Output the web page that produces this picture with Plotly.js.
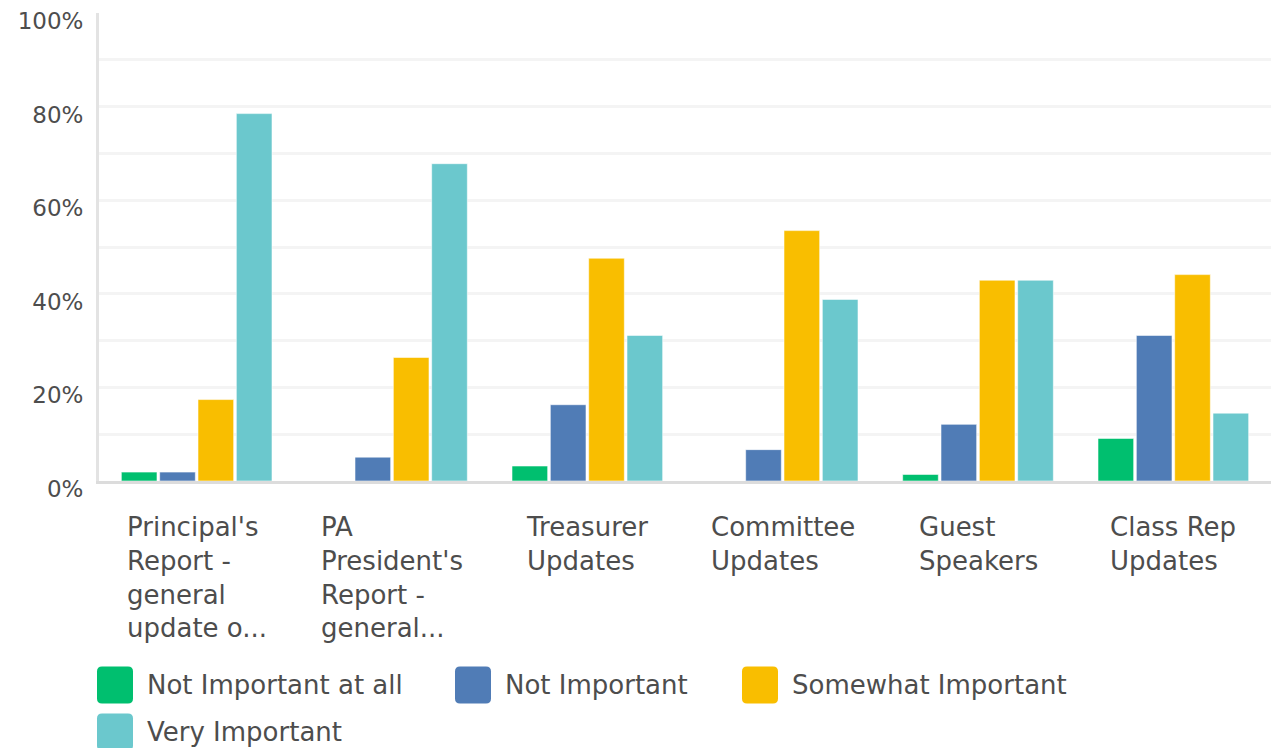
<!DOCTYPE html>
<html>
<head>
<meta charset="utf-8">
<script src="https://cdn.plot.ly/plotly-3.0.1.min.js"></script>
<style>html,body{margin:0;padding:0;background:#fff;}#chart{width:1271px;height:748px;}</style>
</head>
<body>
<div id="chart"></div>
<script>
// ---- data ----
const categories = [
  "Principal's Report - general update o...",
  "PA President's Report - general...",
  "Treasurer Updates",
  "Committee Updates",
  "Guest Speakers",
  "Class Rep Updates"
];
const tickLabels = [
  "Principal's<br>Report -<br>general<br>update o...",
  "PA<br>President's<br>Report -<br>general...",
  "Treasurer<br>Updates",
  "Committee<br>Updates",
  "Guest<br>Speakers",
  "Class Rep<br>Updates"
];
const seriesNames = ["Not Important at all", "Not Important", "Somewhat Important", "Very Important"];
const notImportantAtAll = [1.9, 0, 3.2, 0, 1.4, 9.1];
const notImportant      = [1.9, 5.1, 16.3, 6.7, 12.1, 31.1];
const somewhatImportant = [17.4, 26.4, 47.6, 53.5, 42.9, 44.1];
const veryImportant     = [78.5, 67.8, 31.1, 38.8, 42.9, 14.5];
const yTickValues = [0, 20, 40, 60, 80, 100];
const yTickText = ["0%", "20%", "40%", "60%", "80%", "100%"];

// ---- styles ----
const colors = ["#00bf6f", "#507cb6", "#f9be00", "#6bc8cd"];
const seriesValues = [notImportantAtAll, notImportant, somewhatImportant, veryImportant];
const FONT = "DejaVu Sans, sans-serif";
const TXT = "#4d4d4d";

const traces = seriesValues.map((vals, i) => ({
  type: "bar",
  name: seriesNames[i],
  x: categories,
  y: vals,
  marker: { color: colors[i], line: { color: "rgba(255,255,255,0.55)", width: 1 } },
  hoverinfo: "skip"
}));

const W = 1271, H = 748;
const margin = { l: 99, r: 0, t: 13, b: 267 };
const pw = W - margin.l - margin.r, ph = H - margin.t - margin.b;
const px2x = p => (p - margin.l) / pw;
const py2y = p => (H - margin.b - p) / ph;

// category labels (block centred, lines left aligned)
const annotations = categories.map((c, i) => ({
  xref: "x", yref: "paper", x: c, y: 0,
  xanchor: "center", yanchor: "top", align: "left",
  yshift: -29,
  text: tickLabels[i], showarrow: false,
  font: { family: FONT, size: 26, color: TXT }
}));

// legend built from series names/colours
const legendPos = [[97, 685], [455, 685], [742, 685], [97, 732]];
const shapes = [];
const sw = 36, sh = 37, r = 5;
seriesNames.forEach((n, i) => {
  const [lx, cy] = legendPos[i];
  const x0 = lx, x1 = lx + sw, y0 = cy - sh / 2, y1 = cy + sh / 2;
  const X = p => px2x(p), Y = p => py2y(p);
  const path = `M ${X(x0 + r)} ${Y(y0)} L ${X(x1 - r)} ${Y(y0)} Q ${X(x1)} ${Y(y0)} ${X(x1)} ${Y(y0 + r)} ` +
    `L ${X(x1)} ${Y(y1 - r)} Q ${X(x1)} ${Y(y1)} ${X(x1 - r)} ${Y(y1)} L ${X(x0 + r)} ${Y(y1)} ` +
    `Q ${X(x0)} ${Y(y1)} ${X(x0)} ${Y(y1 - r)} L ${X(x0)} ${Y(y0 + r)} Q ${X(x0)} ${Y(y0)} ${X(x0 + r)} ${Y(y0)} Z`;
  shapes.push({ type: "path", xref: "paper", yref: "paper", path: path,
    fillcolor: colors[i], line: { width: 0 } });
  annotations.push({
    xref: "paper", yref: "paper", x: px2x(lx + 48), y: py2y(cy),
    xanchor: "left", yanchor: "middle", showarrow: false, text: n,
    font: { family: FONT, size: 26, color: TXT }
  });
});

const layout = {
  width: W, height: H,
  margin: margin,
  paper_bgcolor: "#fff", plot_bgcolor: "#fff",
  barmode: "group", bargap: 0.215, bargroupgap: 0.07,
  showlegend: false,
  font: { family: FONT, color: TXT },
  xaxis: {
    type: "category", showticklabels: false, showgrid: false, zeroline: false,
    showline: true, linecolor: "#dcdcdc", linewidth: 3, ticks: ""
  },
  yaxis: {
    range: [0, 100], tickvals: yTickValues, ticktext: yTickText,
    showgrid: true, gridcolor: "#f4f4f4", gridwidth: 3,
    minor: { dtick: 10, showgrid: true, gridcolor: "#f4f4f4", gridwidth: 3 },
    zeroline: false, showline: true, linecolor: "#e3e3e3", linewidth: 3,
    ticks: "", ticklabelstandoff: 8, ticklabelshift: 8,
    tickfont: { family: FONT, size: 23, color: TXT }
  },
  annotations: annotations,
  shapes: shapes
};

Plotly.newPlot("chart", traces, layout, { staticPlot: true, displayModeBar: false });
</script>
</body>
</html>
